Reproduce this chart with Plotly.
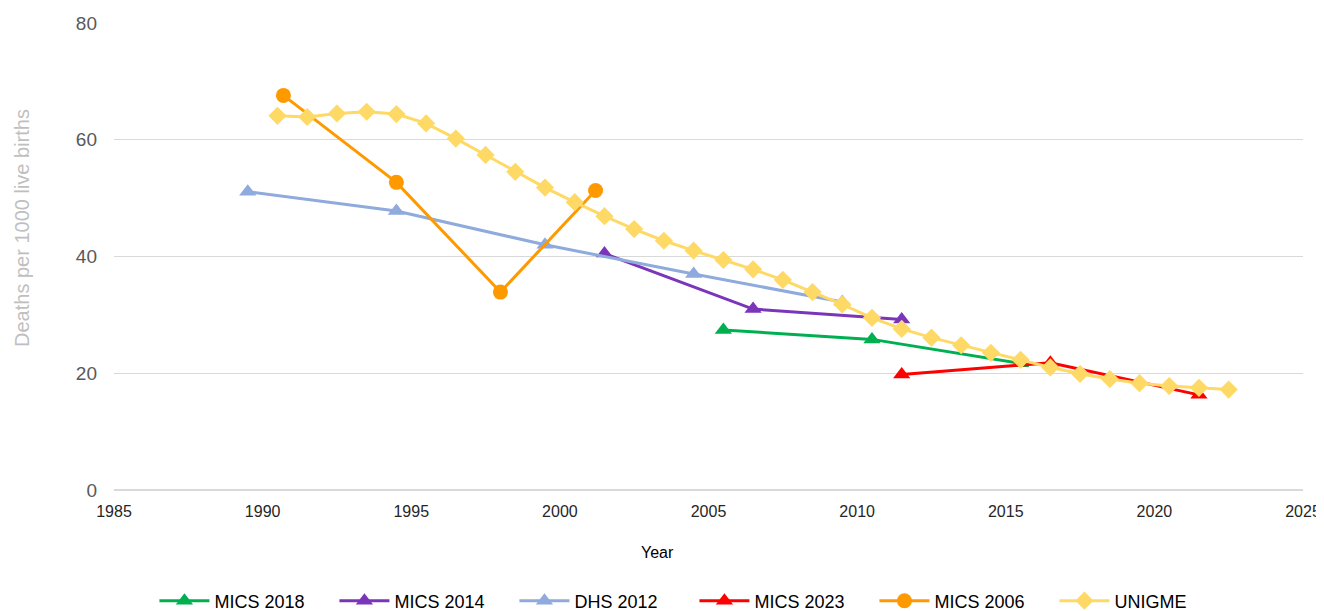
import plotly.graph_objects as go

# Data
mics2018_x = [2005.5, 2010.5, 2015.5]
mics2018_y = [27.4, 25.8, 21.7]

mics2014_x = [2001.5, 2006.5, 2011.5]
mics2014_y = [40.5, 31.0, 29.2]

dhs2012_x = [1989.5, 1994.5, 1999.5, 2004.5, 2009.5]
dhs2012_y = [51.1, 47.8, 42.0, 37.0, 32.2]

mics2023_x = [2011.5, 2016.5, 2021.5]
mics2023_y = [19.8, 21.8, 16.3]

mics2006_x = [1990.7, 1994.5, 1998.0, 2001.2]
mics2006_y = [67.6, 52.7, 33.9, 51.3]

unigme_x = [1990.5 + i for i in range(33)]
unigme_y = [64.1, 63.9, 64.5, 64.8, 64.4, 62.8, 60.2, 57.4, 54.5, 51.8,
            49.3, 46.9, 44.7, 42.7, 41.0, 39.4, 37.8, 36.0, 33.9, 31.8,
            29.5, 27.6, 26.1, 24.8, 23.5, 22.3, 21.0, 19.9, 19.0, 18.3,
            17.8, 17.5, 17.2]

x_ticks = [1985, 1990, 1995, 2000, 2005, 2010, 2015, 2020, 2025]
y_ticks = [0, 20, 40, 60, 80]

x_title = "Year"
y_title = "Deaths per 1000 live births"

series = [
    ("MICS 2018", mics2018_x, mics2018_y, "#00B050", "triangle-up", 15),
    ("MICS 2014", mics2014_x, mics2014_y, "#7B35B9", "triangle-up", 15),
    ("DHS 2012", dhs2012_x, dhs2012_y, "#8FAADC", "triangle-up", 15),
    ("MICS 2023", mics2023_x, mics2023_y, "#FF0000", "triangle-up", 15),
    ("MICS 2006", mics2006_x, mics2006_y, "#FF9900", "circle", 15),
    ("UNIGME", unigme_x, unigme_y, "#FFD966", "diamond", 14),
]

fig = go.Figure()
for name, xs, ys, color, sym, size in series:
    fig.add_trace(go.Scatter(
        x=xs, y=ys, name=name, mode="lines+markers",
        line=dict(color=color, width=3),
        marker=dict(symbol=sym, size=size, color=color),
    ))

# the page has an 8px body margin, so the figure is drawn smaller and shifted
fig.update_layout(
    width=1316, height=603,
    margin=dict(l=106, r=21, t=15, b=121, autoexpand=False),
    paper_bgcolor="white", plot_bgcolor="white",
    font=dict(family="Liberation Sans, Arial, sans-serif", color="#404040"),
    showlegend=True,
    legend=dict(
        orientation="h",
        x=0.034, xanchor="left", y=-0.2377, yanchor="middle",
        font=dict(size=18, color="#000000"),
        itemwidth=50, tracegroupgap=0,
        entrywidth=115, entrywidthmode="pixels",
    ),
    xaxis=dict(
        range=[1985, 2025], tickvals=x_ticks,
        showgrid=False, zeroline=False, showline=False, automargin=False,
        ticks="", tickfont=dict(size=16, color="#262626"),
        ticklabelstandoff=10, ticklabeloverflow="allow",
    ),
    yaxis=dict(
        range=[0, 80], tickvals=y_ticks, automargin=False,
        showgrid=True, gridcolor="#D9D9D9", gridwidth=1,
        zeroline=True, zerolinecolor="#D9D9D9", zerolinewidth=1.5,
        showline=False, ticks="",
        tickfont=dict(size=19, color="#595959"),
        ticklabelstandoff=16,
    ),
    annotations=[
        dict(text=x_title, xref="paper", yref="paper", x=0.4575, y=-0.1349,
             xanchor="center", yanchor="middle", showarrow=False,
             font=dict(size=16, color="#000000")),
        dict(text=y_title, xref="paper", yref="paper", x=-0.0774, y=0.561,
             xanchor="center", yanchor="middle", showarrow=False, textangle=-90,
             font=dict(size=20, color="#BFBFBF")),
    ],
)

fig.write_html("out.html")
